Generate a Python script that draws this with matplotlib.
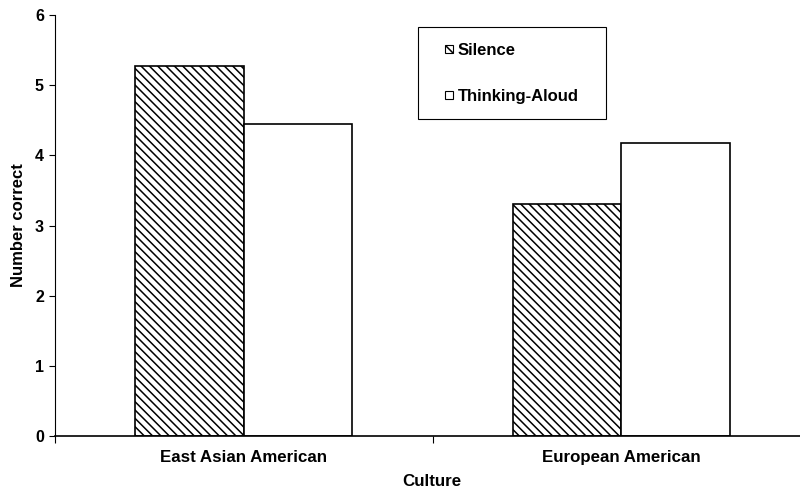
import matplotlib
matplotlib.use('Agg')
import matplotlib.pyplot as plt
from matplotlib.patches import Patch, Rectangle
import numpy

# values
cultures = ['East Asian American', 'European American']
conditions = ['Silence', 'Thinking-Aloud']
silence = [5.27, 3.30]
thinking_aloud = [4.45, 4.17]
hatches = ['\\\\\\\\', '']

plt.rcParams['font.family'] = ['Liberation Sans Narrow', 'Liberation Sans', 'DejaVu Sans']
plt.rcParams['font.weight'] = 'bold'
plt.rcParams['hatch.linewidth'] = 1.1

W, H = 800, 493
fig = plt.figure(figsize=(W / 100, H / 100), dpi=100)
# axis runs past the right edge of the picture, like the original scan
ax = fig.add_axes([55 / W, 1 - 436 / H, 755 / W, 421 / H])

centers = numpy.arange(len(cultures)) + 0.5
width = 0.287
for i, vals in enumerate([silence, thinking_aloud]):
    ax.bar(centers + (i - 0.5) * width, vals, width, color='white',
           edgecolor='black', linewidth=1.2, hatch=hatches[i])

ax.set_xlim(0, 2)
ax.set_ylim(0, 6)
ax.set_yticks(range(7))
ax.set_xticks([0, 1, 2])
ax.set_xticklabels([])
for c, name in zip(centers, cultures):
    ax.text(c, -0.2, name, ha='center', va='top', fontsize=12.2, fontweight='bold')
ax.tick_params(axis='y', length=4, width=0.8, labelsize=11.5, pad=4)
ax.tick_params(axis='x', length=5, width=0.8)
for lab in ax.get_yticklabels():
    lab.set_fontweight('bold')
ax.spines['top'].set_visible(False)
ax.spines['right'].set_visible(False)
ax.spines['left'].set_linewidth(0.8)
ax.spines['bottom'].set_linewidth(1.2)

fig.text(432 / W, 1 - 482 / H, 'Culture', ha='center', va='center',
         fontsize=12.2, fontweight='bold')
fig.text(19 / W, 1 - 225 / H, 'Number correct', ha='center', va='center',
         rotation=90, fontsize=12, fontweight='bold')

# legend box drawn by hand so the padding matches the original
fig.patches.append(Rectangle((418 / W, 1 - 119 / H), 188 / W, 92 / H,
                             transform=fig.transFigure, facecolor='white',
                             edgecolor='black', linewidth=0.8, zorder=4))
handles = [Patch(facecolor='white', edgecolor='black', linewidth=0.8, hatch=h)
           for h in ['\\\\\\', '']]
leg = fig.legend(handles, conditions, loc='upper left',
                 bbox_to_anchor=(445 / W, 1 - 43 / H), borderaxespad=0,
                 prop={'family': ['Liberation Sans', 'DejaVu Sans'],
                       'weight': 'bold', 'size': 12},
                 handlelength=0.5, handleheight=0.4, handletextpad=0.25,
                 labelspacing=1.85, borderpad=0, frameon=False)
leg.set_zorder(5)

fig.savefig('out.png', dpi=100)
